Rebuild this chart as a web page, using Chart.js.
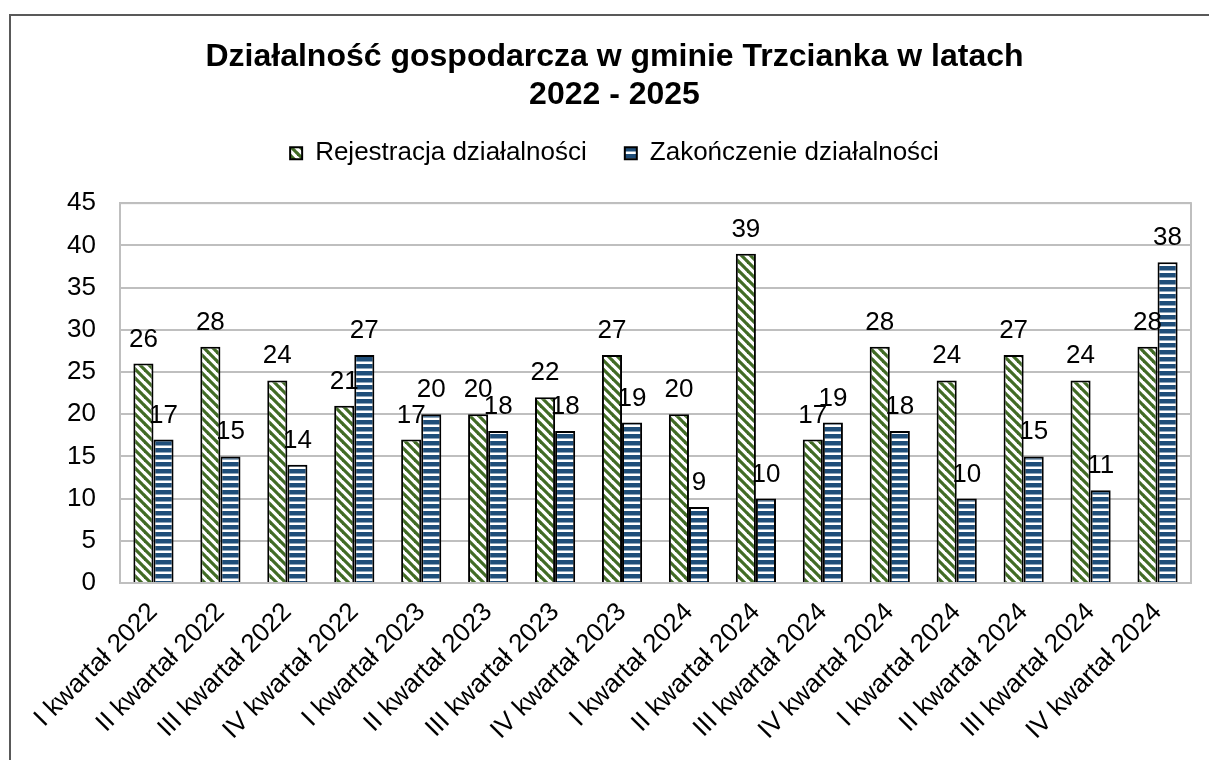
<!DOCTYPE html>
<html>
<head>
<meta charset="utf-8">
<script src="https://cdn.jsdelivr.net/npm/chart.js@4/dist/chart.umd.min.js"></script>
<style>
  html, body { margin: 0; padding: 0; background: #fff; }
  #wrap { width: 1209px; height: 760px; position: relative; }
</style>
</head>
<body>
<div id="wrap"><canvas id="chart"></canvas></div>
<script>
const titleLines = ['Działalność gospodarcza w gminie Trzcianka w latach', '2022 - 2025'];
const quarters = [
  'I kwartał 2022', 'II kwartał 2022', 'III kwartał 2022', 'IV kwartał 2022',
  'I kwartał 2023', 'II kwartał 2023', 'III kwartał 2023', 'IV kwartał 2023',
  'I kwartał 2024', 'II kwartał 2024', 'III kwartał 2024', 'IV kwartał 2024',
  'I kwartał 2024', 'II kwartał 2024', 'III kwartał 2024', 'IV kwartał 2024'
];
const registered = [26, 28, 24, 21, 17, 20, 22, 27, 20, 39, 17, 28, 24, 27, 24, 28];
const closed = [17, 15, 14, 27, 20, 18, 18, 19, 9, 10, 19, 18, 10, 15, 11, 38];
const yTicks = [0, 5, 10, 15, 20, 25, 30, 35, 40, 45];

const FONT = 'Arial, "Liberation Sans", sans-serif';

// hatch patterns like the Excel fills
function diagPattern(color) {
  const c = document.createElement('canvas');
  c.width = 9; c.height = 9;
  const g = c.getContext('2d');
  g.fillStyle = '#fff';
  g.fillRect(0, 0, 9, 9);
  g.strokeStyle = color;
  g.lineWidth = 3.2;
  [-9, 0, 9].forEach(o => {
    g.beginPath();
    g.moveTo(o - 1, -1);
    g.lineTo(o + 10, 10);
    g.stroke();
  });
  return g.createPattern(c, 'repeat');
}
function horizPattern(color) {
  const c = document.createElement('canvas');
  c.width = 7; c.height = 7;
  const g = c.getContext('2d');
  g.fillStyle = '#fff';
  g.fillRect(0, 0, 7, 7);
  g.fillStyle = color;
  g.fillRect(0, 0, 7, 4.5);
  return g.createPattern(c, 'repeat');
}

const frame = {
  id: 'frame',
  beforeDraw(chart) {
    const ctx = chart.ctx;
    ctx.save();
    ctx.strokeStyle = '#595959';
    ctx.lineWidth = 2;
    ctx.beginPath();
    ctx.moveTo(10, 760);
    ctx.lineTo(10, 15);
    ctx.lineTo(1209, 15);
    ctx.stroke();
    ctx.restore();
  },
  beforeDatasetsDraw(chart) {
    const a = chart.chartArea;
    const ctx = chart.ctx;
    ctx.save();
    ctx.strokeStyle = '#BFBFBF';
    ctx.lineWidth = 2;
    ctx.strokeRect(a.left, a.top, a.right - a.left, a.bottom - a.top);
    ctx.restore();
  }
};

const valueLabels = {
  id: 'valueLabels',
  afterDatasetsDraw(chart) {
    const ctx = chart.ctx;
    ctx.save();
    ctx.font = '26px ' + FONT;
    ctx.fillStyle = '#000';
    ctx.textAlign = 'center';
    ctx.textBaseline = 'alphabetic';
    chart.data.datasets.forEach((ds, i) => {
      chart.getDatasetMeta(i).data.forEach((bar, j) => {
        ctx.fillText(ds.data[j], bar.x, bar.y - 17);
      });
    });
    ctx.restore();
  }
};

new Chart(document.getElementById('chart'), {
  type: 'bar',
  data: {
    labels: quarters,
    datasets: [
      {
        label: 'Rejestracja działalności',
        data: registered,
        backgroundColor: diagPattern('#416B25'),
        borderColor: '#000',
        borderWidth: 2
      },
      {
        label: 'Zakończenie działalności',
        data: closed,
        backgroundColor: horizPattern('#1F4E79'),
        borderColor: '#000',
        borderWidth: 2
      }
    ]
  },
  options: {
    responsive: true,
    maintainAspectRatio: false,
    animation: false,
    layout: { padding: { left: 20, right: 0, top: 0, bottom: 0 } },
    categoryPercentage: 0.6,
    barPercentage: 1.0,
    plugins: {
      title: {
        display: true,
        text: titleLines,
        color: '#000',
        font: { family: FONT, size: 32, weight: 'bold', lineHeight: 1.19 },
        padding: { top: 38, bottom: -12 }
      },
      legend: {
        display: true,
        position: 'top',
        labels: {
          color: '#000',
          font: { family: FONT, size: 26 },
          boxWidth: 12,
          boxHeight: 12,
          padding: 38
        }
      },
      // empty spacer between legend and plot
      subtitle: {
        display: true,
        text: '',
        weight: 500,
        font: { size: 1, lineHeight: 1 },
        padding: { top: 26, bottom: 0 }
      },
      tooltip: { enabled: false }
    },
    scales: {
      x: {
        grid: { display: false },
        border: { display: true, color: '#BFBFBF', width: 2 },
        ticks: {
          color: '#000',
          font: { family: FONT, size: 26 },
          maxRotation: 45,
          minRotation: 45,
          autoSkip: false,
          padding: 6
        },
        afterFit(scale) { scale.height = 177; }
      },
      y: {
        min: 0,
        max: 45,
        grid: { color: '#BFBFBF', lineWidth: 2, drawTicks: false },
        border: { display: true, color: '#BFBFBF', width: 2 },
        ticks: {
          color: '#000',
          font: { family: FONT, size: 26 },
          padding: 24,
          autoSkip: false,
          callback: (v) => v
        },
        afterBuildTicks(scale) { scale.ticks = yTicks.map(v => ({ value: v })); },
        afterFit(scale) { scale.width = 100; }
      },
      // keeps the right margin of the plot area
      yRight: {
        position: 'right',
        display: true,
        grid: { display: false },
        border: { display: false },
        ticks: { display: false },
        afterFit(scale) { scale.width = 18; }
      }
    }
  },
  plugins: [frame, valueLabels]
});
</script>
</body>
</html>
